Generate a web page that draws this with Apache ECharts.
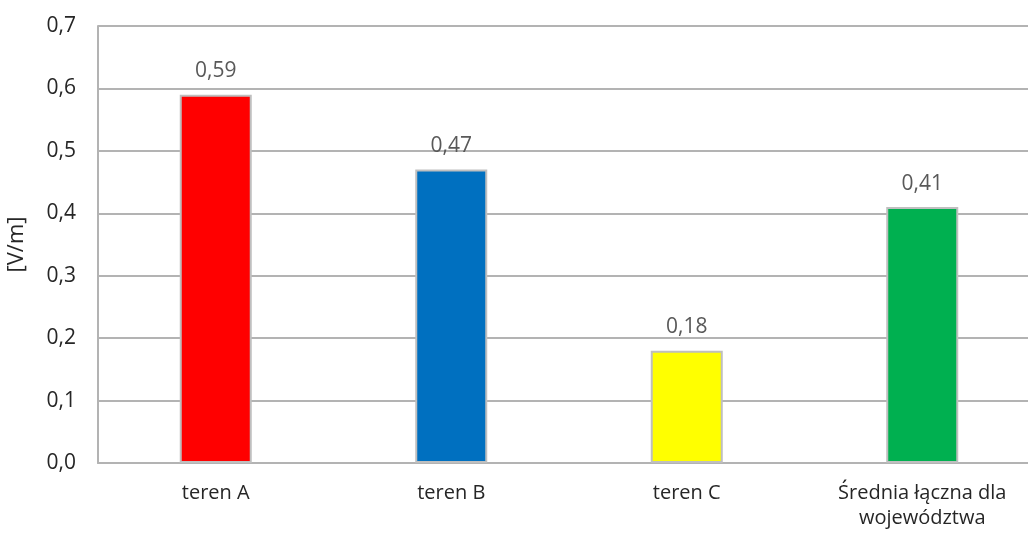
<!DOCTYPE html>
<html>
<head>
<meta charset="utf-8">
<script src="https://cdn.jsdelivr.net/npm/echarts@6/dist/echarts.min.js"></script>
<style>
  html, body { margin: 0; padding: 0; background: #ffffff; }
  #chart { width: 1028px; height: 533px; }
</style>
</head>
<body>
<div id="chart"></div>
<script>
// Average field strength per area
const categories = ['teren A', 'teren B', 'teren C', 'Średnia łączna dla\nwojewództwa'];
const values = [0.59, 0.47, 0.18, 0.41];
const barColors = ['#ff0000', '#0070c0', '#ffff00', '#00b050'];
const yTicks = { min: 0, max: 0.7, interval: 0.1 };

const fmt = v => v.toFixed(1).replace('.', ',');
const fmt2 = v => v.toFixed(2).replace('.', ',');

const font = "'Open Sans', 'Noto Sans', sans-serif";
const chart = echarts.init(document.getElementById('chart'));
chart.setOption({
  animation: false,
  grid: { left: 98, top: 26, width: 942, height: 437, containLabel: false, outerBoundsMode: 'none' },
  xAxis: {
    type: 'category',
    data: categories,
    axisLine: { lineStyle: { color: '#b3b3b3', width: 2 } },
    axisTick: { show: false },
    axisLabel: { color: '#262626', fontFamily: font, fontSize: 20, margin: 18, lineHeight: 25, interval: 0 }
  },
  yAxis: {
    type: 'value',
    min: yTicks.min,
    max: yTicks.max,
    interval: yTicks.interval,
    name: '[V/m]',
    nameLocation: 'middle',
    nameGap: 70,
    nameTextStyle: { color: '#262626', fontFamily: font, fontSize: 22 },
    axisLine: { show: true, lineStyle: { color: '#b3b3b3', width: 2 } },
    axisTick: { show: false },
    splitLine: { lineStyle: { color: '#b3b3b3', width: 2 } },
    axisLabel: { color: '#262626', fontFamily: font, fontSize: 21, margin: 22, formatter: fmt }
  },
  series: [{
    type: 'bar',
    data: values.map((v, i) => ({ value: v, itemStyle: { color: barColors[i] } })),
    barWidth: 72,
    itemStyle: { borderColor: '#bfbfbf', borderWidth: 2 },
    label: {
      show: true,
      position: 'top',
      distance: 13,
      color: '#595959',
      fontFamily: font,
      fontSize: 21,
      formatter: p => fmt2(p.value)
    }
  }]
});
</script>
</body>
</html>
